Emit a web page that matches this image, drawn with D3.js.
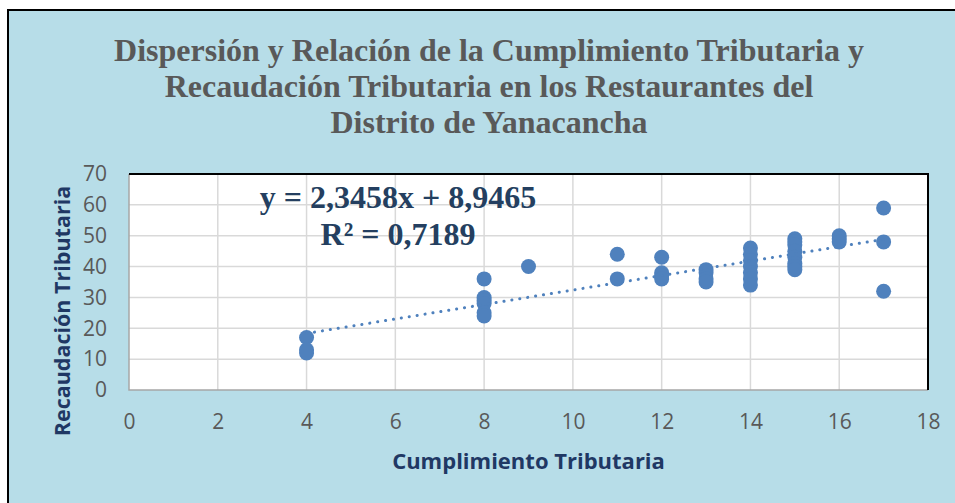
<!DOCTYPE html>
<html>
<head>
  <script src="https://d3js.org/d3.v7.min.js"></script>
  <style>
    body { margin: 0; background: #fff; }
    svg { display: block; }
    .tick text { font-family: "Open Sans", sans-serif; fill: #595959; }
  </style>
</head>
<body>
  <svg width="955" height="503"></svg>
  <script>
    const width = 955, height = 503;

    // Cumplimiento Tributaria (x) / Recaudación Tributaria (y)
    const cumplimiento = [4, 4, 4,
      8, 8, 8, 8, 8, 8,
      9,
      11, 11,
      12, 12, 12, 12,
      13, 13, 13, 13,
      14, 14, 14, 14, 14, 14, 14,
      15, 15, 15, 15, 15, 15, 15, 15,
      16, 16, 16,
      17, 17, 17];
    const recaudacion = [17, 13, 12,
      36, 30, 29, 28, 25, 24,
      40,
      44, 36,
      43, 38, 37, 36,
      39, 38, 36, 35,
      46, 44, 42, 40, 38, 36, 34,
      49, 48, 47, 45, 43, 41, 40, 39,
      50, 49, 48,
      59, 48, 32];

    const slope = 2.3458, intercept = 8.9465;
    const trendRange = [4, 17];

    const xTicks = [0, 2, 4, 6, 8, 10, 12, 14, 16, 18];
    const yTicks = [0, 10, 20, 30, 40, 50, 60, 70];

    const titleLines = [
      "Dispersión y Relación de la Cumplimiento Tributaria y",
      "Recaudación Tributaria en los Restaurantes del",
      "Distrito de Yanacancha"
    ];
    const eqLines = ["y = 2,3458x + 8,9465", "R² = 0,7189"];

    const plot = { left: 129, right: 928, top: 174, bottom: 390 };

    const svg = d3.select("svg");

    // chart frame
    svg.append("rect")
      .attr("x", 8).attr("y", 10)
      .attr("width", width).attr("height", height)
      .attr("fill", "#b7dde8")
      .attr("stroke", "#000").attr("stroke-width", 2);

    const x = d3.scaleLinear().domain([0, 18]).range([plot.left, plot.right]);
    const y = d3.scaleLinear().domain([0, 70]).range([plot.bottom, plot.top]);

    svg.append("rect")
      .attr("x", plot.left).attr("y", plot.top)
      .attr("width", plot.right - plot.left)
      .attr("height", plot.bottom - plot.top)
      .attr("fill", "#fff");

    // gridlines
    svg.append("g").selectAll("line")
      .data(xTicks.slice(1, -1))
      .join("line")
      .attr("x1", d => x(d)).attr("x2", d => x(d))
      .attr("y1", plot.top).attr("y2", plot.bottom)
      .attr("stroke", "#d9d9d9").attr("stroke-width", 1.5);
    svg.append("g").selectAll("line")
      .data(yTicks.slice(1, -1))
      .join("line")
      .attr("x1", plot.left).attr("x2", plot.right)
      .attr("y1", d => y(d)).attr("y2", d => y(d))
      .attr("stroke", "#d9d9d9").attr("stroke-width", 1.5);

    // plot border: grey left/bottom, black top/right
    svg.append("path")
      .attr("d", `M${plot.left},${plot.top}V${plot.bottom}H${plot.right}`)
      .attr("fill", "none").attr("stroke", "#a6a6a6").attr("stroke-width", 1.5);
    svg.append("path")
      .attr("d", `M${plot.left},${plot.top}H${plot.right}V${plot.bottom}`)
      .attr("fill", "none").attr("stroke", "#000").attr("stroke-width", 2);

    // axes
    const xAxis = svg.append("g")
      .attr("transform", `translate(0,${plot.bottom})`)
      .call(d3.axisBottom(x).tickValues(xTicks).tickSize(0).tickPadding(24));
    const yAxis = svg.append("g")
      .attr("transform", `translate(${plot.left},0)`)
      .call(d3.axisLeft(y).tickValues(yTicks).tickSize(0).tickPadding(22));
    [xAxis, yAxis].forEach(g => {
      g.select(".domain").remove();
      g.selectAll("text").style("font-size", "21px");
    });

    // points
    svg.append("g").selectAll("circle")
      .data(cumplimiento.map((d, i) => [d, recaudacion[i]]))
      .join("circle")
      .attr("cx", d => x(d[0]))
      .attr("cy", d => y(d[1]))
      .attr("r", 7.5)
      .attr("fill", "#4f81bd");

    // linear trendline
    svg.append("line")
      .attr("x1", x(trendRange[0])).attr("y1", y(slope * trendRange[0] + intercept))
      .attr("x2", x(trendRange[1])).attr("y2", y(slope * trendRange[1] + intercept))
      .attr("stroke", "#4f81bd").attr("stroke-width", 3)
      .attr("stroke-dasharray", "0.1 7.9").attr("stroke-linecap", "round");

    // title
    svg.append("g").selectAll("text")
      .data(titleLines)
      .join("text")
      .attr("x", 489).attr("y", (d, i) => 61 + i * 36)
      .attr("text-anchor", "middle")
      .style("font-family", "'Liberation Serif', 'Times New Roman', serif")
      .style("font-weight", "bold").style("font-size", "32px")
      .attr("fill", "#595959")
      .text(d => d);

    // equation label
    svg.append("g").selectAll("text")
      .data(eqLines)
      .join("text")
      .attr("x", 398).attr("y", (d, i) => 208 + i * 37)
      .attr("text-anchor", "middle")
      .style("font-family", "'Liberation Serif', 'Times New Roman', serif")
      .style("font-weight", "bold").style("font-size", "32px")
      .attr("fill", "#243f60")
      .text(d => d);

    // axis titles
    svg.append("text")
      .attr("x", (plot.left + plot.right) / 2).attr("y", 469)
      .attr("text-anchor", "middle")
      .style("font-family", "'Open Sans', sans-serif")
      .style("font-weight", "bold").style("font-size", "22px")
      .attr("fill", "#1f3864")
      .text("Cumplimiento Tributaria");
    svg.append("text")
      .attr("transform", "translate(70,311) rotate(-90)")
      .attr("text-anchor", "middle")
      .style("font-family", "'Open Sans', sans-serif")
      .style("font-weight", "bold").style("font-size", "21.5px")
      .attr("fill", "#1f3864")
      .text("Recaudación Tributaria");
  </script>
</body>
</html>
